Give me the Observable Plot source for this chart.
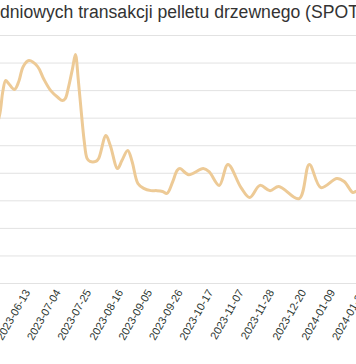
<!DOCTYPE html>
<html>
<head>
<meta charset="utf-8">
<script src="https://cdn.jsdelivr.net/npm/d3@7"></script>
<script src="https://cdn.jsdelivr.net/npm/@observablehq/plot@0.6"></script>
<style>
  html, body { margin: 0; padding: 0; background: #fff; overflow: hidden; width: 356px; height: 364px; }
  #title { height: 30px; line-height: 30px; padding-top: 2px; box-sizing: border-box; font: 17.6px "Liberation Sans", Arial, sans-serif; color: #333; white-space: nowrap; overflow: hidden; width: 356px; }
</style>
</head>
<body>
<div id="title">dniowych transakcji pelletu drzewnego (SPOT)</div>
<div id="chart"></div>
<script>
const dates = [
  "2023-05-20","2023-05-25","2023-05-27","2023-05-29","2023-05-31","2023-06-04","2023-06-07","2023-06-10",
  "2023-06-14","2023-06-20","2023-06-24","2023-06-29","2023-07-04","2023-07-07","2023-07-09","2023-07-11",
  "2023-07-14","2023-07-16","2023-07-18","2023-07-20","2023-07-22","2023-07-24","2023-07-26","2023-07-30",
  "2023-08-01","2023-08-06","2023-08-09","2023-08-14","2023-08-17","2023-08-21","2023-08-24","2023-08-28",
  "2023-09-01","2023-09-06","2023-09-10","2023-09-14","2023-09-17","2023-09-21","2023-09-24","2023-09-26",
  "2023-10-02","2023-10-12","2023-10-16","2023-10-23","2023-10-29","2023-11-07","2023-11-13","2023-11-20",
  "2023-11-27","2023-12-03","2023-12-17","2023-12-24","2024-01-01","2024-01-12","2024-01-17","2024-01-23",
  "2024-01-25","2024-01-30"
];
const prices = [
  1419,1517,1597,1637,1626,1604,1633,1687,
  1709,1687,1644,1600,1575,1564,1571,1607,
  1680,1731,1637,1524,1419,1354,1343,1343,
  1354,1437,1401,1317,1346,1383,1343,1263,
  1245,1237,1237,1234,1227,1270,1310,1317,
  1295,1317,1306,1256,1332,1248,1212,1256,
  1237,1252,1208,1332,1248,1281,1270,1230,
  1234,1245
];
const tickLabels = ["2023-06-13","2023-07-04","2023-07-25","2023-08-16","2023-09-05","2023-09-26",
  "2023-10-17","2023-11-07","2023-11-28","2023-12-20","2024-01-09","2024-01-30"];
const yGrid = [900,1000,1100,1200,1300,1400,1500,1600,1700,1800];
const xDomain = ["2023-05-25T10:00Z","2024-01-25T12:00Z"];

const data = dates.map((d, i) => ({date: new Date(d), price: prices[i]}));

const chart = Plot.plot({
  width: 356,
  height: 334,
  marginTop: 5,
  marginBottom: 81,
  marginLeft: 0,
  marginRight: 0,
  style: {fontFamily: "'Liberation Sans', Arial, sans-serif", fontSize: "11px", color: "#333", background: "#fff"},
  x: {type: "utc", domain: xDomain.map(d => new Date(d))},
  y: {axis: null, domain: [yGrid[0], yGrid[yGrid.length - 1]]},
  marks: [
    Plot.gridY(yGrid, {stroke: "#e2e2e2", strokeOpacity: 1, strokeWidth: 1}),
    Plot.axisX(tickLabels.map(d => new Date(d)), {
      tickFormat: d3.utcFormat("%Y-%m-%d"),
      tickRotate: -60,
      tickSize: 0,
      tickPadding: 7,
      fontSize: 11,
      fill: "#2e3833"
    }),
    Plot.line(data, {x: "date", y: "price", curve: "catmull-rom", stroke: "#edca96", strokeWidth: 3, clip: true})
  ]
});
document.getElementById("chart").appendChild(chart);
</script>
</body>
</html>
